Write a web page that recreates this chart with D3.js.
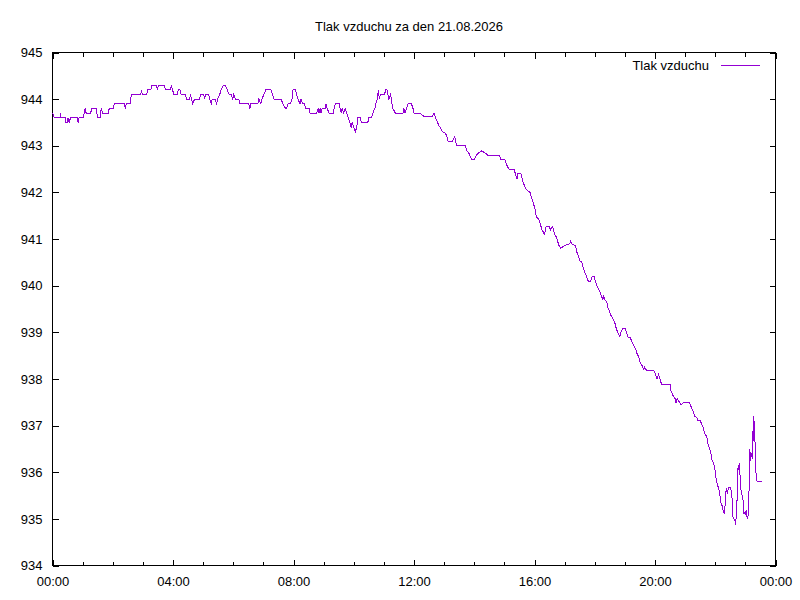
<!DOCTYPE html>
<html lang="cs">
<head>
<meta charset="utf-8">
<title>Tlak vzduchu</title>
<style>
  body { margin: 0; background: #fff; }
  svg text { font-family: 'Liberation Sans', Arial, sans-serif; font-size: 13px; fill: #000; }
  .axis path, .axis line { stroke: #000; stroke-width: 1; shape-rendering: crispEdges; }
</style>
<script src="https://d3js.org/d3.v7.min.js"></script>
</head>
<body>
<svg id="chart" width="800" height="600"></svg>
<script>
// data: minutes after midnight and pressure (hPa)
var minutes = [
  0, 4, 15, 16, 17, 25, 26, 29, 31, 33, 36, 49, 51, 53, 61, 63, 65, 67, 76, 78,
  87, 90, 95, 97, 100, 111, 113, 121, 123, 143, 145, 147, 155, 157, 176, 177, 179, 188, 189, 196,
  198, 207, 209, 211, 223, 225, 235, 237, 239, 242, 248, 251, 254, 256, 265, 267, 273, 275, 279, 283,
  293, 295, 301, 303, 305, 311, 313, 316, 318, 324, 327, 329, 333, 336, 340, 344, 348, 352, 356, 359,
  361, 364, 371, 373, 391, 393, 395, 409, 411, 415, 417, 421, 425, 435, 438, 441, 455, 459, 464, 466,
  469, 474, 477, 479, 484, 486, 489, 493, 495, 498, 502, 504, 511, 513, 526, 529, 531, 533, 535, 537,
  543, 545, 547, 551, 559, 561, 563, 571, 573, 575, 577, 580, 583, 586, 589, 592, 595, 597, 600, 603,
  606, 608, 613, 615, 628, 630, 635, 638, 642, 644, 647, 649, 651, 653, 661, 664, 666, 668, 670, 673,
  675, 676, 678, 683, 698, 700, 702, 705, 708, 715, 718, 720, 733, 736, 741, 756, 760, 763, 766, 770,
  773, 776, 782, 785, 788, 797, 801, 803, 805, 822, 825, 829, 832, 835, 840, 844, 849, 855, 862, 867,
  891, 892, 901, 904, 909, 919, 922, 925, 927, 933, 937, 940, 943, 951, 954, 957, 961, 964, 968, 972,
  975, 980, 983, 989, 992, 996, 1000, 1004, 1008, 1012, 1018, 1030, 1032, 1035, 1042, 1044, 1047, 1051, 1054, 1057,
  1060, 1064, 1067, 1072, 1075, 1079, 1081, 1084, 1091, 1094, 1096, 1098, 1100, 1104, 1106, 1109, 1111, 1118, 1121, 1123,
  1126, 1130, 1132, 1136, 1140, 1143, 1146, 1151, 1154, 1158, 1162, 1164, 1168, 1171, 1174, 1178, 1179, 1183, 1198, 1201,
  1204, 1207, 1210, 1213, 1230, 1232, 1236, 1240, 1242, 1244, 1251, 1254, 1256, 1269, 1272, 1276, 1279, 1283, 1285, 1291,
  1292, 1295, 1297, 1300, 1303, 1305, 1308, 1311, 1314, 1316, 1319, 1320, 1322, 1324, 1327, 1329, 1330, 1332, 1334, 1336,
  1338, 1339, 1340, 1342, 1344, 1346, 1348, 1350, 1352, 1354, 1355, 1357, 1359, 1360, 1362, 1364, 1365, 1366, 1368, 1369,
  1370, 1372, 1374, 1376, 1377, 1378, 1380, 1382, 1383, 1385, 1386, 1388, 1389, 1390, 1392, 1394, 1395, 1396, 1397, 1398,
  1400, 1401, 1403, 1405, 1414
];
var pressure = [
  943.7, 943.6, 943.6, 943.7, 943.6, 943.6, 943.5, 943.5, 943.6, 943.5, 943.6, 943.6, 943.5, 943.6, 943.6, 943.7, 943.8, 943.7, 943.7, 943.8,
  943.8, 943.6, 943.6, 943.8, 943.7, 943.7, 943.8, 943.8, 943.9, 943.9, 943.8, 943.9, 943.9, 944.1, 944.1, 944.2, 944.1, 944.1, 944.2, 944.2,
  944.3, 944.3, 944.2, 944.3, 944.3, 944.2, 944.2, 944.3, 944.2, 944.1, 944.1, 944.2, 944.2, 944.1, 944.1, 944.0, 944.0, 944.1, 943.9, 944.0,
  944.0, 944.1, 944.1, 944.0, 944.1, 944.1, 944.0, 943.9, 944.0, 944.0, 943.9, 944.0, 944.1, 944.2, 944.3, 944.3, 944.2, 944.1, 944.1, 944.0,
  944.1, 944.0, 944.0, 943.9, 943.9, 943.8, 943.9, 943.9, 944.0, 943.9, 944.0, 944.1, 944.2, 944.2, 944.1, 944.0, 944.0, 943.9, 943.8, 943.8,
  943.9, 943.9, 944.0, 944.2, 944.2, 944.1, 944.0, 943.9, 944.0, 943.9, 943.9, 943.8, 943.8, 943.7, 943.7, 943.8, 943.7, 943.8, 943.7, 943.8,
  943.8, 943.9, 943.8, 943.7, 943.7, 943.8, 943.9, 943.9, 943.8, 943.7, 943.8, 943.7, 943.8, 943.7, 943.6, 943.5, 943.4, 943.5, 943.4, 943.3,
  943.4, 943.6, 943.6, 943.5, 943.5, 943.6, 943.6, 943.7, 943.8, 943.9, 944.0, 944.2, 944.0, 944.1, 944.1, 944.2, 944.2, 944.1, 944.0, 944.1,
  944.0, 943.9, 943.8, 943.7, 943.7, 943.8, 943.7, 943.8, 943.9, 943.9, 943.8, 943.7, 943.7, 943.66, 943.62, 943.62, 943.7, 943.6, 943.53, 943.42,
  943.38, 943.31, 943.27, 943.22, 943.1, 943.1, 943.2, 943.1, 943.0, 943.0, 942.9, 942.85, 942.77, 942.7, 942.7, 942.8, 942.85, 942.89, 942.84, 942.8,
  942.8, 942.7, 942.7, 942.6, 942.5, 942.5, 942.4, 942.28, 942.4, 942.4, 942.22, 942.15, 942.07, 942.0, 941.88, 941.8, 941.64, 941.46, 941.44, 941.3,
  941.2, 941.1, 941.27, 941.27, 941.2, 941.27, 941.1, 941.04, 940.88, 940.8, 940.85, 940.9, 940.96, 940.89, 940.85, 940.73, 940.64, 940.51, 940.51, 940.39,
  940.28, 940.19, 940.1, 940.1, 940.2, 940.2, 940.1, 940.0, 939.85, 939.76, 939.7, 939.78, 939.7, 939.65, 939.53, 939.47, 939.39, 939.25, 939.17, 939.07,
  939.0, 938.9, 939.0, 939.09, 939.09, 939.0, 938.9, 938.88, 938.8, 938.71, 938.62, 938.55, 938.46, 938.33, 938.29, 938.2, 938.25, 938.19, 938.18, 938.1,
  938.0, 938.1, 937.99, 937.89, 937.89, 937.74, 937.64, 937.58, 937.49, 937.58, 937.46, 937.46, 937.49, 937.49, 937.4, 937.3, 937.2, 937.18, 937.1, 937.1,
  937.05, 936.99, 936.9, 936.8, 936.78, 936.63, 936.53, 936.42, 936.24, 936.21, 936.1, 935.99, 935.85, 935.75, 935.64, 935.53, 935.46, 935.31, 935.28, 935.17,
  935.1, 935.17, 935.38, 935.67, 935.53, 935.66, 935.67, 935.68, 935.6, 935.38, 935.04, 935.0, 934.99, 934.88, 935.04, 935.56, 936.1, 936.06, 936.2, 936.06,
  935.67, 935.6, 935.46, 935.38, 935.1, 935.13, 935.1, 935.19, 935.05, 934.99, 935.24, 935.81, 936.49, 936.24, 936.42, 936.28, 936.88, 936.67, 937.2, 936.67,
  936.63, 935.99, 935.81, 935.8, 935.8
];
var xTickMinutes = [0, 240, 480, 720, 960, 1200, 1440];
var xTickLabels = ["00:00", "04:00", "08:00", "12:00", "16:00", "20:00", "00:00"];
var yTicks = [934, 935, 936, 937, 938, 939, 940, 941, 942, 943, 944, 945];
var title = "Tlak vzduchu za den 21.08.2026";
var seriesName = "Tlak vzduchu";

var svg = d3.select("#chart");
var plotL = 52.5, plotR = 775.5, plotT = 52.5, plotB = 565.5;

var x = d3.scaleLinear().domain([0, 1440]).range([plotL, plotR]);
var y = d3.scaleLinear().domain([934, 945]).range([plotB, plotT]);

var hourly = d3.range(0, 1441, 60).filter(function (m) { return m % 240 !== 0; });

// minor ticks (every hour), bottom and top
svg.append("g").attr("class", "axis")
  .attr("transform", "translate(0," + plotB + ")")
  .call(d3.axisTop(x).tickValues(hourly).tickSize(4).tickFormat(""))
  .select(".domain").remove();
svg.append("g").attr("class", "axis")
  .attr("transform", "translate(0," + plotT + ")")
  .call(d3.axisBottom(x).tickValues(hourly).tickSize(4).tickFormat(""))
  .select(".domain").remove();

// major ticks with labels
var xAxis = svg.append("g").attr("class", "axis")
  .attr("transform", "translate(0," + plotB + ")")
  .call(d3.axisBottom(x).tickValues(xTickMinutes).tickSize(-6).tickPadding(11)
    .tickFormat(function (d, i) { return xTickLabels[i]; }));
xAxis.select(".domain").remove();
svg.append("g").attr("class", "axis")
  .attr("transform", "translate(0," + plotT + ")")
  .call(d3.axisTop(x).tickValues(xTickMinutes).tickSize(-6).tickFormat(""))
  .select(".domain").remove();

var yAxis = svg.append("g").attr("class", "axis")
  .attr("transform", "translate(" + plotL + ",0)")
  .call(d3.axisLeft(y).tickValues(yTicks).tickSize(-6).tickPadding(10).tickFormat(d3.format("d")));
yAxis.select(".domain").remove();
svg.append("g").attr("class", "axis")
  .attr("transform", "translate(" + plotR + ",0)")
  .call(d3.axisRight(y).tickValues(yTicks).tickSize(-6).tickFormat(""))
  .select(".domain").remove();

svg.selectAll(".axis text").style("font-family", "'Liberation Sans', Arial, sans-serif").style("font-size", "13px");

// frame
svg.append("rect")
  .attr("x", plotL).attr("y", plotT)
  .attr("width", plotR - plotL).attr("height", plotB - plotT)
  .attr("fill", "none").attr("stroke", "#000").attr("shape-rendering", "crispEdges");

// series (aliased like the gnuplot original)
var points = minutes.map(function (m, i) { return [m, pressure[i]]; });
var line = d3.line().x(function (d) { return x(d[0]); }).y(function (d) { return y(d[1]); });
svg.append("path")
  .datum(points)
  .attr("fill", "none")
  .attr("stroke", "#9400d3")
  .attr("stroke-width", 1)
  .attr("shape-rendering", "crispEdges")
  .attr("d", line);

// title
svg.append("text")
  .attr("x", 409).attr("y", 31)
  .attr("text-anchor", "middle")
  .text(title);

// legend
svg.append("text")
  .attr("x", 709).attr("y", 70)
  .attr("text-anchor", "end")
  .text(seriesName);
svg.append("line")
  .attr("x1", 721).attr("x2", 760)
  .attr("y1", 65.5).attr("y2", 65.5)
  .attr("stroke", "#9400d3").attr("stroke-width", 1)
  .attr("shape-rendering", "crispEdges");
</script>
</body>
</html>
